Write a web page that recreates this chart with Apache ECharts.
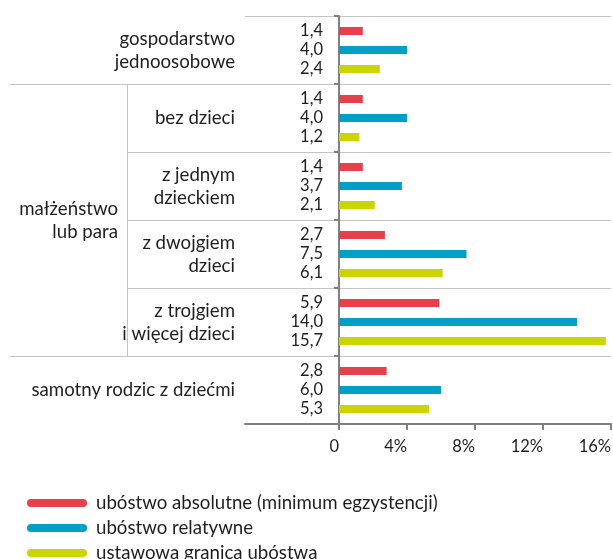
<!DOCTYPE html>
<html>
<head>
<meta charset="utf-8">
<script src="https://cdn.jsdelivr.net/npm/echarts@6/dist/echarts.min.js"></script>
<style>
html,body{margin:0;padding:0;background:#fff;}
#c{width:613px;height:559px;}
</style>
</head>
<body>
<div id="c"></div>
<script>
const categories = [
  "gospodarstwo\njednoosobowe",
  "bez dzieci",
  "z jednym\ndzieckiem",
  "z dwojgiem\ndzieci",
  "z trojgiem\ni więcej dzieci",
  "samotny rodzic z dziećmi"
];
const groupLabel = "małżeństwo\nlub para";
const seriesNames = [
  "ubóstwo absolutne (minimum egzystencji)",
  "ubóstwo relatywne",
  "ustawowa granica ubóstwa"
];
const absoluteValues = [1.4, 1.4, 1.4, 2.7, 5.9, 2.8];
const relativeValues = [4.0, 4.0, 3.7, 7.5, 14.0, 6.0];
const statutoryValues = [2.4, 1.2, 2.1, 6.1, 15.7, 5.3];
const xTicks = [0, 4, 8, 12, 16];
const xTickLabels = ["0", "4%", "8%", "12%", "16%"];

const colors = ["#e8404b", "#00a0c6", "#cdd500"];
const FONT = "Lato";
const axisGray = "#808080";
const lineGray = "#c4c4c4";
const TEXT = "#1e1e1e";

const chart = echarts.init(document.getElementById('c'), null, {renderer: 'canvas'});

const labelCfg = {
  show: true,
  position: 'left',
  distance: 16,
  color: TEXT,
  fontFamily: FONT,
  fontSize: 16.5,
  formatter: p => p.value.toFixed(1).replace('.', ',')
};

const pill = 'path://M4,0 H56 A4,4 0 0 1 56,8 H4 A4,4 0 0 1 4,0 Z';

const option = {
  animation: false,
  textStyle: {fontFamily: FONT},
  grid: {left: 245, right: 2, top: 16, bottom: 135, containLabel: false, outerBoundsMode: 'none'},
  legend: {
    orient: 'vertical',
    left: 27,
    top: 493.5,
    height: 120,
    padding: 0,
    itemWidth: 60,
    itemHeight: 8,
    itemGap: 6,
    icon: pill,
    textStyle: {fontFamily: FONT, fontSize: 18.67, lineHeight: 16, color: TEXT, padding: [0, 0, 0, 4]},
    data: seriesNames
  },
  xAxis: {
    type: 'value',
    min: -5.53,
    max: 16,
    splitLine: {show: false},
    axisLine: {show: true, lineStyle: {color: axisGray, width: 2}},
    axisTick: {show: true, customValues: xTicks, length: 6, lineStyle: {color: axisGray, width: 2}},
    axisLabel: {
      customValues: xTicks,
      margin: 14,
      align: 'right',
      color: TEXT,
      fontFamily: FONT,
      fontSize: 16.5,
      formatter: v => xTickLabels[xTicks.indexOf(v)] ?? ''
    }
  },
  yAxis: {
    type: 'category',
    inverse: true,
    data: categories,
    axisLine: {show: true, lineStyle: {color: axisGray, width: 2}},
    axisTick: {show: true, length: 5, lineStyle: {color: axisGray, width: 2}},
    splitLine: {show: true, lineStyle: {color: lineGray, width: 1}},
    axisLabel: {
      margin: 10,
      color: TEXT,
      fontFamily: FONT,
      fontSize: 18.67,
      lineHeight: 23,
      align: 'right'
    }
  },
  series: [
    {name: seriesNames[0], type: 'bar', data: absoluteValues, barWidth: 8, barGap: '137.5%', itemStyle: {color: colors[0]}, label: labelCfg},
    {name: seriesNames[1], type: 'bar', data: relativeValues, barWidth: 8, barGap: '137.5%', itemStyle: {color: colors[1]}, label: labelCfg},
    {name: seriesNames[2], type: 'bar', data: statutoryValues, barWidth: 8, barGap: '137.5%', itemStyle: {color: colors[2]}, label: labelCfg}
  ]
};
chart.setOption(option);

// Left-hand table structure derived from the category axis
const c0 = chart.convertToPixel({yAxisIndex: 0}, 0);
const c1 = chart.convertToPixel({yAxisIndex: 0}, 1);
const band = c1 - c0;
const bound = i => c0 - band / 2 + i * band; // boundary above category i
const axisX = chart.convertToPixel({xAxisIndex: 0}, -5.53);
const tableLeft = 10, subLeft = 127;
const g = [];
const hl = (x1, x2, y) => g.push({type: 'line', shape: {x1, y1: Math.round(y) + 0.5, x2, y2: Math.round(y) + 0.5}, style: {stroke: lineGray, lineWidth: 1}, silent: true});
hl(tableLeft, axisX, bound(1));
hl(tableLeft, axisX, bound(5));
hl(subLeft, axisX, bound(2));
hl(subLeft, axisX, bound(3));
hl(subLeft, axisX, bound(4));
g.push({type: 'line', shape: {x1: subLeft + 0.5, y1: bound(1), x2: subLeft + 0.5, y2: bound(5)}, style: {stroke: lineGray, lineWidth: 1}, silent: true});
g.push({
  type: 'text',
  x: subLeft - 9,
  y: (bound(1) + bound(5)) / 2,
  style: {text: groupLabel, fontFamily: FONT, fontSize: 18.67, lineHeight: 23, fill: TEXT, align: 'right', verticalAlign: 'middle'},
  silent: true
});
chart.setOption({graphic: g});
</script>
</body>
</html>
